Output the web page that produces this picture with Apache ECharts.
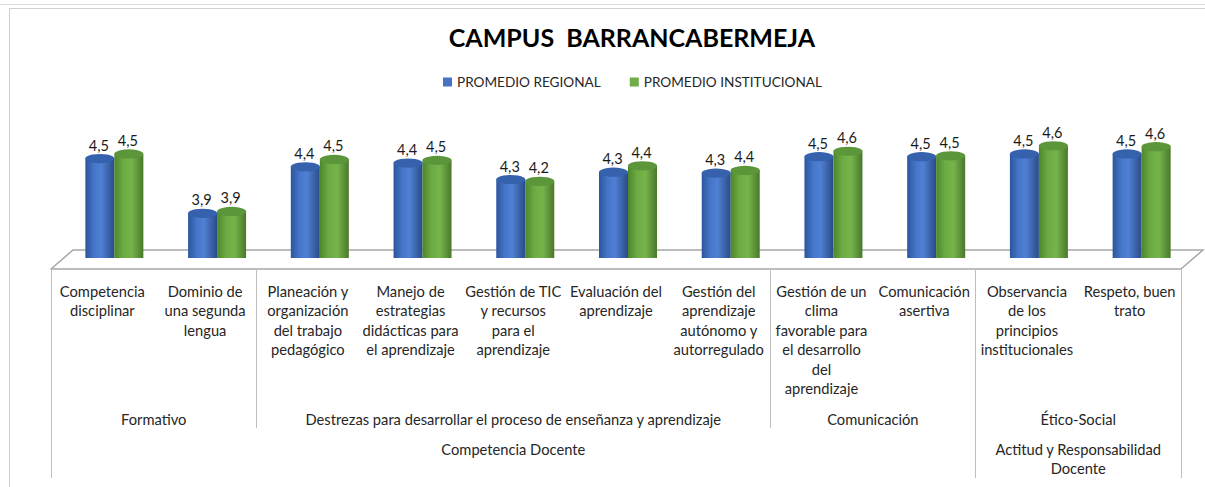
<!DOCTYPE html>
<html>
<head>
<meta charset="utf-8">
<title>Campus Barrancabermeja</title>
<script src="https://cdn.jsdelivr.net/npm/echarts@6/dist/echarts.min.js"></script>
<style>
  html, body { margin: 0; padding: 0; background: #fff; }
  #chart { width: 1205px; height: 487px; }
</style>
</head>
<body>
<div id="chart"></div>
<script>
// categories (line breaks as in the original)
const categories = [
  'Competencia\ndisciplinar',
  'Dominio de\nuna segunda\nlengua',
  'Planeación y\norganización\ndel trabajo\npedagógico',
  'Manejo de\nestrategias\ndidácticas para\nel aprendizaje',
  'Gestión de TIC\ny recursos\npara el\naprendizaje',
  'Evaluación del\naprendizaje',
  'Gestión del\naprendizaje\nautónomo y\nautorregulado',
  'Gestión de un\nclima\nfavorable para\nel desarrollo\ndel\naprendizaje',
  'Comunicación\nasertiva',
  'Observancia\nde los\nprincipios\ninstitucionales',
  'Respeto, buen\ntrato'
];
const regional      = [4.49, 3.89, 4.40, 4.44, 4.26, 4.34, 4.33, 4.51, 4.51, 4.54, 4.54];
const institucional = [4.54, 3.91, 4.48, 4.47, 4.24, 4.41, 4.36, 4.57, 4.52, 4.63, 4.62];

// second and third level of the category axis: [name, number of categories]
const groups = [
  ['Formativo', 2],
  ['Destrezas para desarrollar el proceso de enseñanza y aprendizaje', 5],
  ['Comunicación', 2],
  ['Ético-Social', 2]
];
const areas = [
  ['Competencia Docente', 9],
  ['Actitud y Responsabilidad\nDocente', 2]
];

const seriesNames = ['PROMEDIO REGIONAL', 'PROMEDIO INSTITUCIONAL'];

// half-category slots so that a label can sit in the middle of any span
function spanAxis(items) {
  const data = new Array(2 * categories.length + 1).fill('');
  const bounds = [];
  let start = 0;
  items.forEach(([name, span]) => {
    data[2 * start + span] = name;
    bounds.push(2 * start, 2 * (start + span));
    start += span;
  });
  return { data, bounds };
}
const lvl2 = spanAxis(groups);
const lvl3 = spanAxis(areas);

const FONT = 'Lato';
const AXIS_FS = 14.7;
const BAR_W = 29;

function grad(stops) {
  return {
    type: 'linear', x: 0, y: 0, x2: 1, y2: 0,
    colorStops: stops.map(s => ({ offset: s[0], color: s[1] }))
  };
}
const blueBody = grad([[0, '#2b559e'], [0.3, '#4676c9'], [0.55, '#4f80d3'], [1, '#2a4b88']]);
const greenBody = grad([[0, '#4d862c'], [0.3, '#6caa43'], [0.6, '#76b44b'], [1, '#4a782b']]);

let chart = echarts.init(document.getElementById('chart'), null, { renderer: 'svg' });

let labelFmt = p => p.value.toFixed(1).replace('.', ',');

function body(name, data, color) {
  return {
    name: name,
    type: 'bar',
    xAxisIndex: 0,
    yAxisIndex: 0,
    barWidth: BAR_W,
    barGap: '0%',
    data: data,
    itemStyle: { color: color },
    label: {
      show: true,
      position: 'top',
      distance: 6,
      offset: [-1, 0],
      formatter: labelFmt,
      fontFamily: FONT,
      fontSize: 14.5,
      color: '#1a1a1a'
    },
    z: 2
  };
}

function cap(name, data, color, dx, atStart) {
  return {
    name: name,
    type: 'pictorialBar',
    xAxisIndex: 0,
    yAxisIndex: 0,
    symbol: 'circle',
    symbolSize: [BAR_W, 9],
    symbolPosition: atStart ? 'start' : 'end',
    symbolOffset: [dx, atStart ? '50%' : '-50%'],
    barWidth: BAR_W,
    barGap: '-100%',
    data: data,
    itemStyle: { color: color },
    silent: true,
    z: atStart ? 1 : 3
  };
}

function levelAxis(level, margin, tickLen) {
  return {
    type: 'category', gridIndex: 1, position: 'bottom', boundaryGap: false, data: level.data,
    axisLine: { show: false },
    axisTick: {
      show: true, length: tickLen,
      interval: idx => level.bounds.includes(idx),
      lineStyle: { color: '#bfbfbf' }
    },
    axisLabel: {
      interval: 0, margin: margin, lineHeight: 19.5,
      fontFamily: FONT, fontSize: AXIS_FS, color: '#262626'
    }
  };
}

let option = {
  animation: false,
  backgroundColor: '#fff',
  title: {
    text: 'CAMPUS  BARRANCABERMEJA',
    left: 627,
    top: 19,
    textAlign: 'center',
    textStyle: { fontFamily: FONT, fontWeight: 'bold', fontSize: 25, color: '#000' }
  },
  legend: {
    left: 438,
    top: 70,
    icon: 'rect',
    itemWidth: 9,
    itemHeight: 9,
    itemGap: 29,
    textStyle: { fontFamily: FONT, fontSize: 13.6, color: '#262626' },
    data: [
      { name: seriesNames[0], itemStyle: { color: '#4472c4' } },
      { name: seriesNames[1], itemStyle: { color: '#70ad47' } }
    ]
  },
  grid: [
    // bars, pushed back and to the right like the 3D plot
    { left: 63, right: 12, top: 112, bottom: 229, outerBoundsMode: 'none' },
    // the category axis at the front edge of the floor
    { left: 51, right: 24, top: 112, bottom: 218, outerBoundsMode: 'none' }
  ],
  xAxis: [
    { type: 'category', gridIndex: 0, data: categories, show: false },
    {
      type: 'category', gridIndex: 1, position: 'bottom', data: categories,
      axisLine: { show: true, lineStyle: { color: '#a6a6a6', width: 1.5 } },
      axisTick: { show: false },
      axisLabel: {
        interval: 0, margin: 12, lineHeight: 19.5,
        fontFamily: FONT, fontSize: AXIS_FS, color: '#262626'
      }
    },
    levelAxis(lvl2, 140, 159),
    levelAxis(lvl3, 170, 209)
  ],
  yAxis: [
    { type: 'value', gridIndex: 0, min: 3.4, max: 5.0, show: false },
    { type: 'value', gridIndex: 1, show: false }
  ],
  graphic: [
    // spreadsheet gridline and chart frame
    { type: 'line', shape: { x1: 0, y1: 4.5, x2: 1205, y2: 4.5 }, style: { stroke: '#dcdcdc' }, z: -10 },
    { type: 'line', shape: { x1: 9.5, y1: 8, x2: 9.5, y2: 487 }, style: { stroke: '#d0d0d0' }, z: -10 },
    { type: 'line', shape: { x1: 9, y1: 8.5, x2: 1205, y2: 8.5 }, style: { stroke: '#d0d0d0' }, z: -10 },
    // floor of the 3D plot
    {
      type: 'polyline',
      shape: { points: [[51, 269], [73, 250], [1203, 250], [1181, 269]] },
      style: { stroke: '#a6a6a6', lineWidth: 1.5, fill: null },
      z: -5
    }
  ],
  series: [
    cap('bottomR', regional, blueBody, -BAR_W / 2, true),
    cap('bottomI', institucional, greenBody, BAR_W / 2, true),
    body(seriesNames[0], regional, blueBody),
    body(seriesNames[1], institucional, greenBody),
    cap('topR', regional, '#3561ad', -BAR_W / 2, false),
    cap('topI', institucional, '#5c963a', BAR_W / 2, false)
  ]
};

chart.setOption(option);
</script>
</body>
</html>
